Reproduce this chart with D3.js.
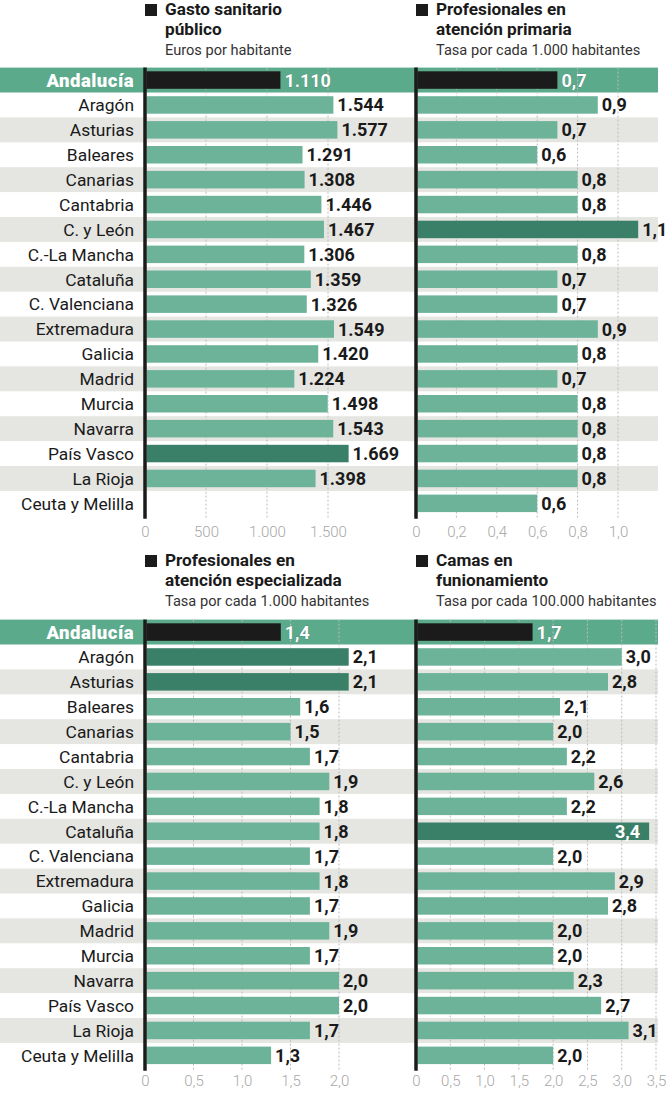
<!DOCTYPE html>
<html><head><meta charset="utf-8">
<script src="https://cdn.jsdelivr.net/npm/d3@7"></script>
<style>
body{margin:0;background:#fff;}
svg{display:block;}
text{font-family:Roboto,"Noto Sans",sans-serif;}
</style></head>
<body>
<script>
const regions = ["Andalucía","Aragón","Asturias","Baleares","Canarias","Cantabria","C. y León","C.-La Mancha","Cataluña","C. Valenciana","Extremadura","Galicia","Madrid","Murcia","Navarra","País Vasco","La Rioja","Ceuta y Melilla"];

const gasto = [1110,1544,1577,1291,1308,1446,1467,1306,1359,1326,1549,1420,1224,1498,1543,1669,1398,null];
const primaria = [0.7,0.9,0.7,0.6,0.8,0.8,1.1,0.8,0.7,0.7,0.9,0.8,0.7,0.8,0.8,0.8,0.8,0.6];
const especializada = [1.4,2.1,2.1,1.6,1.5,1.7,1.9,1.8,1.8,1.7,1.8,1.7,1.9,1.7,2.0,2.0,1.7,1.3];
const camas = [1.7,3.0,2.8,2.1,2.0,2.2,2.6,2.2,3.4,2.0,2.9,2.8,2.0,2.0,2.3,2.7,3.1,2.0];

const gastoTicks = [0,500,1000,1500];
const primariaTicks = [0,0.2,0.4,0.6,0.8,1.0];
const especializadaTicks = [0,0.5,1.0,1.5,2.0];
const camasTicks = [0,0.5,1.0,1.5,2.0,2.5,3.0,3.5];

const gastoHighlight = ["País Vasco"];
const primariaHighlight = ["C. y León"];
const especializadaHighlight = ["Aragón","Asturias"];
const camasHighlight = ["Cataluña"];

const titles = [["Gasto sanitario","público"],["Profesionales en","atención primaria"],["Profesionales en","atención especializada"],["Camas en","funionamiento"]];
const subtitles = ["Euros por habitante","Tasa por cada 1.000 habitantes","Tasa por cada 1.000 habitantes","Tasa por cada 100.000 habitantes"];

const W = 667, H = 1093;
const svg = d3.select("body").append("svg").attr("width",W).attr("height",H);

const C = {bar:"#6db39a", dark:"#3a8068", band:"#5caa8c", stripe:"#e5e5e1", black:"#1b1b1b", grid:"#bcbcbc", tick:"#a8a8a8"};

const fmtThousands = d => d3.format(",")(d).replace(/,/g,".");
const fmtDec = d => d3.format(".1f")(d).replace(".",",");
const fmtTick = f => d => d === 0 ? "0" : f(d);

const rowH = 24.9;
const blocks = [
  {y0:67.6, tickOff:8, panels:[
    {vals:gasto, ticks:gastoTicks, hl:gastoHighlight, x0:145, max:1500, w:183, fmt:fmtThousands, t:0},
    {vals:primaria, ticks:primariaTicks, hl:primariaHighlight, x0:416, max:1.0, w:202, fmt:fmtDec, t:1}
  ], headY:0},
  {y0:619.6, tickOff:5, panels:[
    {vals:especializada, ticks:especializadaTicks, hl:especializadaHighlight, x0:145, max:2.0, w:194, fmt:fmtDec, t:2},
    {vals:camas, ticks:camasTicks, hl:camasHighlight, x0:416, max:3.5, w:240, fmt:fmtDec, t:3}
  ], headY:551}
];

blocks.forEach(b => {
  const y = d3.scaleBand().domain(regions).range([b.y0, b.y0 + rowH*regions.length]).paddingInner(0).paddingOuter(0);
  const g = svg.append("g");
  g.selectAll("rect.stripe").data(regions).join("rect")
    .attr("x",0).attr("width",658)
    .attr("y",d=>y(d)).attr("height",y.bandwidth())
    .attr("fill",(d,i)=> i===0 ? C.band : (i%2===0 ? C.stripe : "none"));
  g.selectAll("text.cat").data(regions).join("text")
    .attr("x",134).attr("y",d=>y(d)+y.bandwidth()/2)
    .attr("dy","0.36em").attr("text-anchor","end")
    .attr("font-size",(d,i)=> i===0?18.5:17.4)
    .attr("font-weight",(d,i)=> i===0?900:400)
    .attr("letter-spacing",(d,i)=> i===0?0.5:0)
    .attr("fill",(d,i)=> i===0?"#fff":"#1a1a1a")
    .text(d=>d);

  const bottom = b.y0 + rowH*regions.length + 3;
  b.panels.forEach(p => {
    const x = d3.scaleLinear().domain([0,p.max]).range([p.x0, p.x0+p.w]);
    const pg = g.append("g");
    pg.selectAll("line.grid").data(p.ticks.filter(t=>t>0)).join("line")
      .attr("x1",d=>x(d)).attr("x2",d=>x(d))
      .attr("y1",b.y0).attr("y2",bottom)
      .attr("stroke",C.grid).attr("stroke-width",1).attr("stroke-dasharray","2,2");
    const data = regions.map((r,i)=>({r,i,v:p.vals[i]})).filter(d=>d.v!=null);
    const bh = 17.5;
    pg.selectAll("rect.bar").data(data).join("rect")
      .attr("x",x(0)+1.5).attr("y",d=>y(d.r)+(y.bandwidth()-bh)/2)
      .attr("width",d=>x(d.v)-x(0)-1.5).attr("height",bh)
      .attr("fill",d=> d.i===0 ? C.black : (p.hl.includes(d.r) ? C.dark : C.bar));
    pg.append("line").attr("x1",x(0)).attr("x2",x(0))
      .attr("y1",b.y0).attr("y2",bottom)
      .attr("stroke",C.black).attr("stroke-width",3.5);
    const inside = d => x(d.v) > 640;
    pg.selectAll("text.val").data(data).join("text")
      .attr("x",d=> inside(d) ? x(d.v)-9 : x(d.v)+4)
      .attr("text-anchor",d=> inside(d) ? "end" : "start")
      .attr("y",d=>y(d.r)+y.bandwidth()/2).attr("dy","0.36em")
      .attr("font-size",18).attr("font-weight",700)
      .attr("fill",d=> (d.i===0 || inside(d)) ? "#fff" : "#1a1a1a")
      .attr("stroke",d=> d.i===0 ? "rgba(0,0,0,0.35)" : "none").attr("stroke-width",0.6)
      .attr("paint-order","stroke")
      .text(d=>p.fmt(d.v));
    const axis = d3.axisBottom(x).tickValues(p.ticks).tickFormat(fmtTick(p.fmt)).tickSize(0).tickPadding(0);
    const ag = pg.append("g").attr("transform",`translate(0,${bottom+b.tickOff})`).call(axis);
    ag.select(".domain").remove();
    ag.selectAll("text").attr("font-size",15).attr("font-weight",300)
      .attr("fill",C.tick).attr("font-family","Roboto, sans-serif").attr("dy","0.71em");
    const hx = p.x0;
    const hg = svg.append("g");
    hg.append("rect").attr("x",hx).attr("y",b.headY+4).attr("width",12).attr("height",12).attr("fill",C.black);
    const tt = hg.append("text").attr("x",hx+20).attr("y",b.headY+15)
      .attr("font-size",17.2).attr("font-weight",700).attr("fill","#1a1a1a");
    tt.selectAll("tspan").data(titles[p.t]).join("tspan")
      .attr("x",hx+20).attr("dy",(d,i)=> i===0?0:20.2).text(d=>d);
    hg.append("text").attr("x",hx+20).attr("y",b.headY+54.5)
      .attr("font-size",14.6).attr("fill","#333").text(subtitles[p.t]);
  });
});
</script>
</body></html>
